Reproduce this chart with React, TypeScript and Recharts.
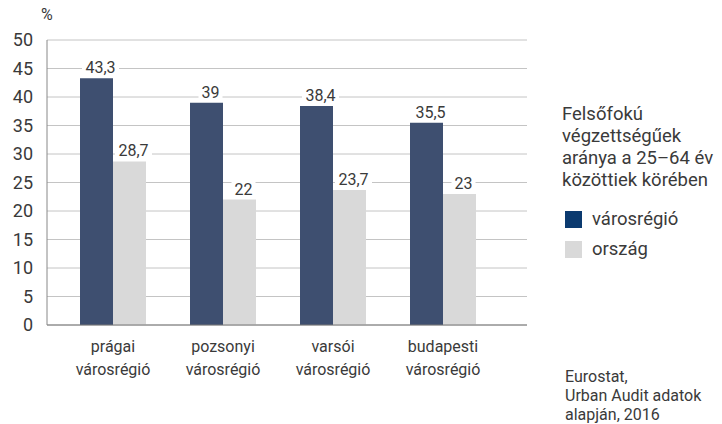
import React from "react";
import { BarChart, Bar, XAxis, YAxis, CartesianGrid, LabelList } from "recharts";

const categories = [
  ["prágai", "városrégió"],
  ["pozsonyi", "városrégió"],
  ["varsói", "városrégió"],
  ["budapesti", "városrégió"],
];
const varosregio = [43.3, 39, 38.4, 35.5];
const orszag = [28.7, 22, 23.7, 23];
const yTicks = [0, 5, 10, 15, 20, 25, 30, 35, 40, 45, 50];
const legendTitle = ["Felsőfokú", "végzettségűek", "aránya a 25–64 év", "közöttiek körében"];
const legendItems = [
  { label: "városrégió", color: "#0b3a6f" },
  { label: "ország", color: "#d9d9d9" },
];
const sourceLines = ["Eurostat,", "Urban Audit adatok", "alapján, 2016"];

const data = categories.map((c, i) => ({
  name: c.join(" "),
  lines: c,
  varosregio: varosregio[i],
  orszag: orszag[i],
}));

const FONT = "Roboto, 'Open Sans', sans-serif";
const TEXT = "#3a3a3a";
const DARK = "#3e4f70";
const LIGHT = "#d9d9d9";

const fmt = (v: number) => String(v).replace(".", ",");

function XTick(props: any) {
  const { x, y, payload } = props;
  const item = data.find((d) => d.name === payload.value);
  const lines = item ? item.lines : [payload.value];
  return (
    <text x={x} y={y} textAnchor="middle" fill={TEXT} fontSize={16} fontFamily={FONT}>
      {lines.map((l: string, i: number) => (
        <tspan key={i} x={x} dy={i === 0 ? 27 : 23}>
          {l}
        </tspan>
      ))}
    </text>
  );
}

// white box behind the value so the gridline is cut, like in the original
function ValueLabel(props: any) {
  const { x, y, width, value } = props;
  const s = fmt(value);
  const cx = x + width / 2 + 4;
  const textW = s.split("").reduce((a, ch) => a + (ch === "," ? 4 : 9), 0);
  const w = textW + 6;
  return (
    <g>
      <rect x={cx - w / 2} y={y - 19} width={w} height={16} fill="#fff" />
      <text x={cx} y={y - 5} textAnchor="middle" fill={TEXT} fontSize={16} fontFamily={FONT}>
        {s}
      </text>
    </g>
  );
}

export default function App() {
  return (
    <div style={{ position: "absolute", left: 0, top: 0, width: 722, height: 424, background: "#fff" }}>
      <div
        style={{ position: "absolute", left: 41, top: 5, fontFamily: FONT, fontSize: 16, color: TEXT }}
      >
        %
      </div>
      <BarChart
        width={722}
        height={424}
        data={data}
        margin={{ top: 40, right: 195, bottom: 39, left: 7 }}
        barCategoryGap="20%"
        barGap={0}
      >
        <CartesianGrid vertical={false} stroke="#c4c4c4" />
        <XAxis
          dataKey="name"
          height={60}
          padding={{ left: 11, right: 29 }}
          tickLine={false}
          tickSize={0}
          tickMargin={0}
          axisLine={{ stroke: "#777" }}
          tick={<XTick />}
          interval={0}
        />
        <YAxis
          width={40}
          domain={[0, 50]}
          ticks={yTicks}
          tickLine={false}
          tickSize={0}
          tickMargin={14}
          axisLine={{ stroke: "#888" }}
          tick={{ fill: TEXT, fontSize: 18, fontFamily: FONT }}
        />
        <YAxis
          yAxisId="r"
          orientation="right"
          width={0}
          domain={[0, 50]}
          tick={false}
          tickLine={false}
          axisLine={{ stroke: "#777" }}
        />
        <Bar dataKey="varosregio" name="városrégió" fill={DARK} isAnimationActive={false}>
          <LabelList dataKey="varosregio" content={<ValueLabel />} />
        </Bar>
        <Bar dataKey="orszag" name="ország" fill={LIGHT} isAnimationActive={false}>
          <LabelList dataKey="orszag" content={<ValueLabel />} />
        </Bar>
      </BarChart>
      <div style={{ position: "absolute", left: 562, top: 103, fontFamily: FONT, color: TEXT }}>
        <div style={{ fontSize: 18.5, lineHeight: "22px", marginBottom: 13 }}>
          {legendTitle.map((l) => (
            <div key={l} style={{ whiteSpace: "nowrap" }}>{l}</div>
          ))}
        </div>
        {legendItems.map((p) => (
          <div key={p.label} style={{ display: "flex", alignItems: "center", height: 30, fontSize: 18.5 }}>
            <span
              style={{
                display: "inline-block",
                width: 17,
                height: 17,
                background: p.color,
                marginLeft: 3,
                marginRight: 10,
              }}
            />
            <span>{p.label}</span>
          </div>
        ))}
      </div>
      <div
        style={{
          position: "absolute",
          left: 565,
          top: 367,
          fontFamily: FONT,
          fontSize: 16,
          lineHeight: "19px",
          color: TEXT,
        }}
      >
        {sourceLines.map((l) => (
          <div key={l}>{l}</div>
        ))}
      </div>
    </div>
  );
}
